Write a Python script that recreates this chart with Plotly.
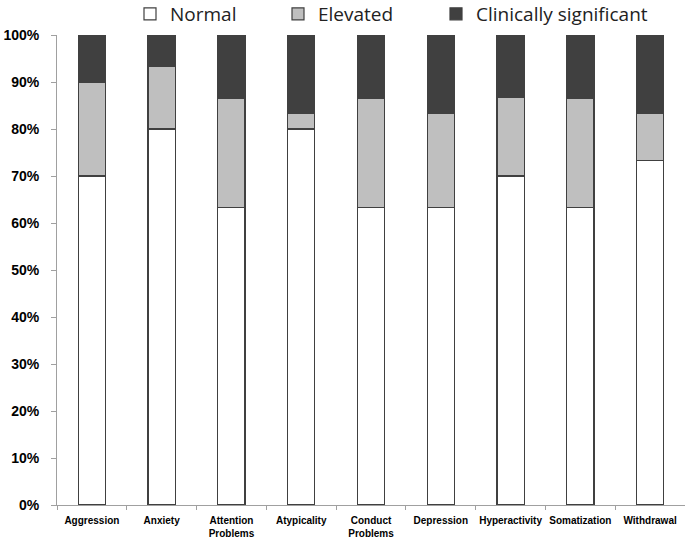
import plotly.graph_objects as go

categories = ["Aggression", "Anxiety", "Attention<br>Problems", "Atypicality", "Conduct<br>Problems",
              "Depression", "Hyperactivity", "Somatization", "Withdrawal"]
normal = [70.0, 80.0, 63.3, 80.0, 63.3, 63.3, 70.0, 63.3, 73.3]
elevated = [20.0, 13.3, 23.3, 3.3, 23.3, 20.0, 16.7, 23.3, 10.0]
clinical = [10.0, 6.7, 13.4, 16.7, 13.4, 16.7, 13.3, 13.4, 16.7]

series = [("Normal", normal, "#ffffff"), ("Elevated", elevated, "#bfbfbf"),
          ("Clinically significant", clinical, "#404040")]
legend_ids = ["legend", "legend2", "legend3"]
legend_left_px = [130, 278, 436]

H_PLOT = 538 - 35 - 33
W_PLOT = 685 - 57

fig = go.Figure()
for (name, vals, color), lid in zip(series, legend_ids):
    fig.add_trace(go.Bar(x=categories, y=vals, name=name, legend=lid,
                         marker=dict(color=color, line=dict(color="#404040", width=1.2))))

legend_style = dict(orientation="h", xanchor="left", y=1 + (35 + 5) / H_PLOT, yanchor="top",
                    font=dict(size=19, color="#222222"), bgcolor="rgba(0,0,0,0)")
layout_legends = {lid: dict(legend_style, x=(px - 57) / W_PLOT)
                  for lid, px in zip(legend_ids, legend_left_px)}

fig.update_layout(
    barmode="stack", bargap=0.61,
    width=685, height=538,
    margin=dict(l=57, r=0, t=35, b=33, autoexpand=False),
    plot_bgcolor="white", paper_bgcolor="white",
    font=dict(family="Open Sans, Liberation Sans, sans-serif", color="#000000"),
    showlegend=True,
    **layout_legends,
)
fig.update_yaxes(range=[0, 100], dtick=10, ticksuffix="%", showgrid=False,
                 showline=True, linecolor="#a0a0a0", linewidth=1, ticks="outside",
                 tickcolor="#a0a0a0", ticklen=5, ticklabelstandoff=9,
                 tickfont=dict(size=14, family="Liberation Sans, sans-serif", weight="bold"))
fig.update_xaxes(showline=True, linecolor="#a0a0a0", linewidth=1, ticks="outside",
                 tickson="boundaries", tickcolor="#a0a0a0", ticklen=4, ticklabelstandoff=6,
                 tickfont=dict(size=10, family="Liberation Sans, sans-serif", weight="bold"),
                 tickangle=0)
fig.write_html("out.html", config={"displayModeBar": False},
               post_script="document.body.style.margin='0';")
